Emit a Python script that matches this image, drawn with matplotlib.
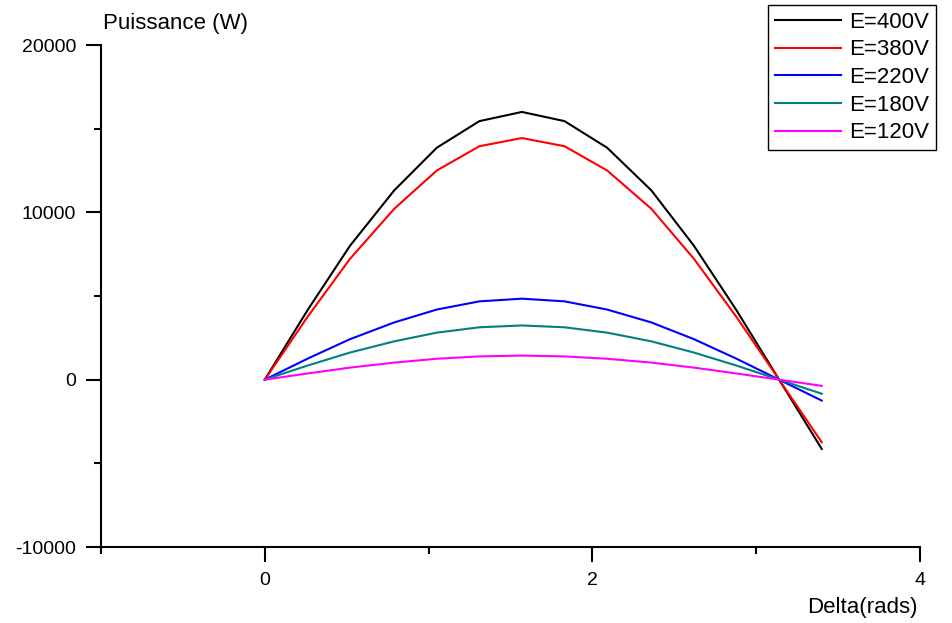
import matplotlib.pyplot as plt
from matplotlib.ticker import MultipleLocator

plt.rcParams["font.family"] = ["Liberation Sans", "DejaVu Sans"]
plt.rcParams["axes.unicode_minus"] = False

delta = [0.0, 0.26, 0.52, 0.79, 1.05, 1.31, 1.57, 1.83, 2.09, 2.36, 2.62, 2.88, 3.14, 3.40]
p_400 = [0, 4140, 8000, 11310, 13860, 15450, 16000, 15450, 13860, 11310, 8000, 4140, 0, -4140]
p_380 = [0, 3740, 7220, 10210, 12500, 13950, 14440, 13950, 12500, 10210, 7220, 3740, 0, -3740]
p_220 = [0, 1250, 2420, 3420, 4190, 4680, 4840, 4680, 4190, 3420, 2420, 1250, 0, -1250]
p_180 = [0, 840, 1620, 2290, 2810, 3130, 3240, 3130, 2810, 2290, 1620, 840, 0, -840]
p_120 = [0, 370, 720, 1020, 1250, 1390, 1440, 1390, 1250, 1020, 720, 370, 0, -370]

series = [
    ("E=400V", p_400, "#000000"),
    ("E=380V", p_380, "#ff0000"),
    ("E=220V", p_220, "#0000ff"),
    ("E=180V", p_180, "#008080"),
    ("E=120V", p_120, "#ff00ff"),
]

fig = plt.figure(figsize=(9.53, 6.23), dpi=100)
ax = fig.add_axes([101 / 953, 76 / 623, 819 / 953, 502 / 623])

for label, values, color in series:
    ax.plot(delta, values, color=color, linewidth=1.5, label=label)

ax.set_xlim(-1, 4)
ax.set_ylim(-10000, 20000)
ax.xaxis.set_major_locator(MultipleLocator(2))
ax.xaxis.set_minor_locator(MultipleLocator(1))
ax.yaxis.set_major_locator(MultipleLocator(10000))
ax.yaxis.set_minor_locator(MultipleLocator(5000))
ax.tick_params(which="major", length=11, width=1.5, labelsize=14, direction="out", pad=7)
ax.tick_params(which="minor", length=5, width=1.5, direction="out")
ax.spines[["top", "right"]].set_visible(False)
ax.spines[["left", "bottom"]].set_linewidth(1.5)

fig.text(103 / 953, 1 - 24 / 623, "Puissance (W)", fontsize=16, va="center", ha="left")
fig.text(918 / 953, 1 - 608 / 623, "Delta(rads)", fontsize=16, va="center", ha="right")

leg = ax.legend(
    loc="upper left",
    bbox_to_anchor=(768 / 953, 1 - 5 / 623),
    bbox_transform=fig.transFigure,
    borderaxespad=0,
    fancybox=False,
    framealpha=1,
    edgecolor="black",
    fontsize=16,
    handlelength=3.0,
    handletextpad=0.35,
    labelspacing=0.3,
    borderpad=0.3,
)
leg.get_frame().set_linewidth(1.0)

fig.savefig("out.png", dpi=100)
